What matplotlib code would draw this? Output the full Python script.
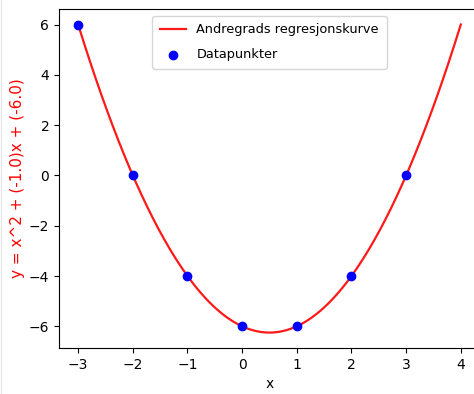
import numpy as np
import matplotlib
matplotlib.use('agg')
import matplotlib.pyplot as plt
from matplotlib.lines import Line2D

# data points
x_data = [-3, -2, -1, 0, 1, 2, 3]
y_data = [6, 0, -4, -6, -6, -4, 0]
x_range = (-3, 4)

coef = np.polyfit(x_data, y_data, 2)
a, b, c = [round(v, 1) for v in coef]
x_curve = np.linspace(x_range[0], x_range[1], 200)
y_curve = np.polyval(coef, x_curve)

fig = plt.figure(figsize=(4.74, 3.94), dpi=100)
ax = fig.add_axes([0.1245, 0.1168, 0.888, 0.860])

ax.plot(x_curve, y_curve, color='red', lw=1.6, alpha=0.9, label='Andregrads regresjonskurve')
ax.scatter(x_data, y_data, color='blue', label='Datapunkter', zorder=3)

ax.set_xlabel('x')
ax.set_ylabel('y = x^2 + (%s)x + (%s)' % (b, c), color='red', fontsize=11, labelpad=3)
ax.legend(loc='upper center', fontsize=9.3, labelspacing=0.9, borderpad=0.6)

# faint screenshot edge on the left
fig.add_artist(Line2D([0.002, 0.002], [0, 1], transform=fig.transFigure, color='#e8e8e8', lw=1))

fig.savefig('out.png', dpi=100)
